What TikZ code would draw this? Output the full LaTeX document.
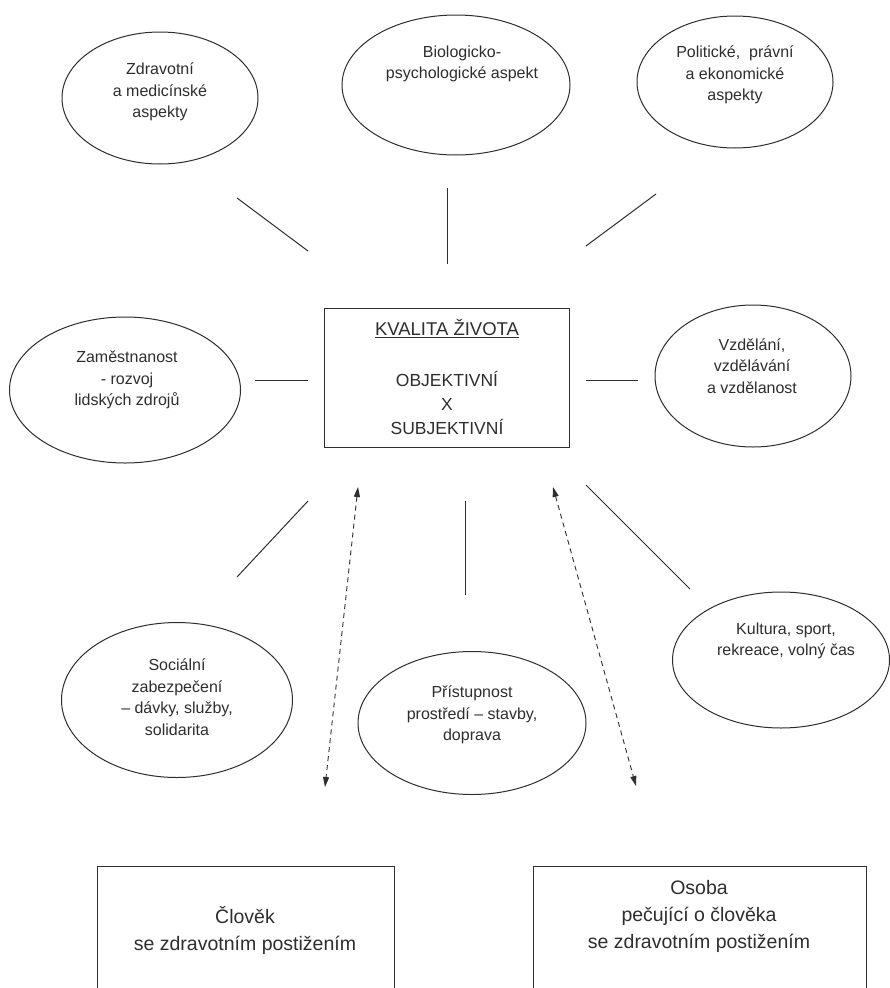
\documentclass[tikz,border=0pt]{standalone}
\usepackage{fontspec}
\setmainfont{Liberation Sans}
\usetikzlibrary{shapes.geometric,arrows.meta}
\definecolor{ink}{gray}{0.18}
\begin{document}
\begin{tikzpicture}[x=1pt,y=-1pt,
  bubble/.style={draw=ink, ellipse, line width=1pt, inner sep=0pt},
  btext/.style={align=center, text=ink, font=\fontsize{16}{21.5}\selectfont, inner sep=0pt},
  boxtext/.style={align=center, text=ink, font=\fontsize{17.5}{24}\selectfont, inner sep=0pt},
  bigtext/.style={align=center, text=ink, font=\fontsize{19.5}{27}\selectfont, inner sep=0pt},
  frame/.style={draw=ink, line width=1pt},
  link/.style={draw=ink, line width=1pt},
  dlink/.style={draw=ink, line width=0.9pt, dash pattern=on 5pt off 4pt, {Triangle[length=10pt,width=6pt]}-{Triangle[length=10pt,width=6pt]}}]
\useasboundingbox (0,0) rectangle (889,988);
\fill[white] (0,0) rectangle (889,988);
% ellipses
\node[bubble, minimum width=196pt, minimum height=132pt] (e1) at (160,98) {};
\node[bubble, minimum width=228pt, minimum height=140pt] (e2) at (456,85) {};
\node[bubble, minimum width=196pt, minimum height=132pt] (e3) at (735,82) {};
\node[bubble, minimum width=231pt, minimum height=146pt] (e4) at (125,390) {};
\node[bubble, minimum width=196pt, minimum height=142pt] (e5) at (753,376) {};
\node[bubble, minimum width=231pt, minimum height=155pt] (e6) at (177,700) {};
\node[bubble, minimum width=228pt, minimum height=143pt] (e7) at (472,723) {};
\node[bubble, minimum width=217pt, minimum height=136pt] (e8) at (781,660) {};
% ellipse texts
\node[btext] (t1) at (160,92) {Zdravotní\\a medicínské\\aspekty};
\node[btext] (t2) at (462,64) {Biologicko-\\psychologické aspekt};
\node[btext] (t3) at (735,75) {Politické,~ právní\\a ekonomické\\aspekty};
\node[btext] (t4) at (127,380) {Zaměstnanost\\- rozvoj\\lidských zdrojů};
\node[btext] (t5) at (752,366) {Vzdělání,\\vzdělávání\\a vzdělanost};
\node[btext] (t6) at (177,697) {Sociální\\zabezpečení\\– dávky, služby,\\solidarita};
\node[btext] (t7) at (472,715) {Přístupnost\\prostředí – stavby,\\doprava};
\node[btext] (t8) at (786,641) {Kultura, sport,\\rekreace, volný čas};
% central box
\draw[frame] (324,308) rectangle (569,447);
\node[boxtext, font=\fontsize{18.5}{24}\selectfont] (kt) at (447,329) {\underline{KVALITA ŽIVOTA}};
\node[boxtext] (ko) at (447,403) {OBJEKTIVNÍ\\X\\SUBJEKTIVNÍ};
% bottom boxes
\draw[frame] (97,866) rectangle (394,998);
\draw[frame] (533,866) rectangle (866,998);
\node[bigtext] (b1) at (245,930) {Člověk\\se zdravotním postižením};
\node[bigtext] (b2) at (699,916) {Osoba\\pečující o člověka\\se zdravotním postižením};
% connector end points
\coordinate (a1) at (237,198); \coordinate (a2) at (308,251);
\coordinate (b1s) at (447,188); \coordinate (b2s) at (447,264);
\coordinate (c1) at (656,194); \coordinate (c2) at (586,246);
\coordinate (d1) at (255,380); \coordinate (d2) at (308,380);
\coordinate (f1) at (586,380); \coordinate (f2) at (638,380);
\coordinate (g1) at (308,501); \coordinate (g2) at (237,577);
\coordinate (h1) at (465,501); \coordinate (h2) at (465,595);
\coordinate (i1) at (586,485); \coordinate (i2) at (690,589);
\coordinate (j1) at (358,487); \coordinate (j2) at (325,787);
\coordinate (k1) at (553,487); \coordinate (k2) at (636,786);
\draw[link] (a1) -- (a2);
\draw[link] (b1s) -- (b2s);
\draw[link] (c1) -- (c2);
\draw[link] (d1) -- (d2);
\draw[link] (f1) -- (f2);
\draw[link] (g1) -- (g2);
\draw[link] (h1) -- (h2);
\draw[link] (i1) -- (i2);
\draw[dlink] (j1) -- (j2);
\draw[dlink] (k1) -- (k2);
\end{tikzpicture}
\end{document}
